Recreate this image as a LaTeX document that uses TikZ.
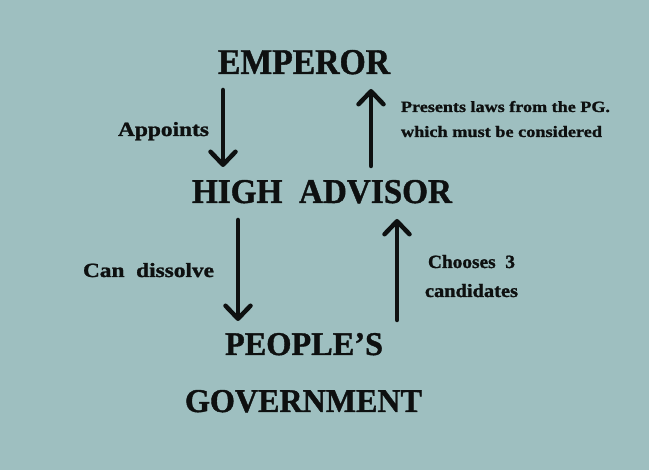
\documentclass[tikz,border=0pt]{standalone}
\usepackage{fontspec}
\setmainfont{Liberation Serif}[BoldFeatures={FakeBold=1.2}]
\usepackage{graphicx}
\usetikzlibrary{arrows.meta}
\definecolor{bgteal}{RGB}{158,191,192}
\definecolor{ink}{RGB}{14,16,16}
\newcommand\fitt[3]{\resizebox{#1pt}{#2pt}{\bfseries #3}}
\begin{document}
\begin{tikzpicture}[x=1pt,y=-1pt,
  lbl/.style={anchor=base west,inner sep=0pt,outer sep=0pt,text=ink},
  arr/.style={draw=ink,line width=4.5pt,line cap=round,
    -{Straight Barb[length=13pt,width=25pt,line cap=round,line join=round]}}]
\useasboundingbox (0,0) rectangle (649,470);
\fill[bgteal] (0,0) rectangle (649,470);
% titles
\node[lbl] (emp) at (218,74) {\fitt{172}{24}{EMPEROR}};
\node[lbl] (hig) at (192,203) {\fitt{260}{23}{HIGH\ \ ADVISOR}};
\node[lbl] (peo) at (225,355) {\fitt{158}{22}{PEOPLE'S}};
\node[lbl] (gov) at (185,412) {\fitt{237}{22}{GOVERNMENT}};
% labels
\node[lbl] (app) at (118,136) {\fitt{91}{14}{Appoints}};
\node[lbl] (pre1) at (401,112) {\fitt{209}{11}{Presents\ laws\ from\ the\ PG.}};
\node[lbl] (pre2) at (401,137) {\fitt{201}{11}{which\ must\ be\ considered}};
\node[lbl] (can) at (83,277) {\fitt{131}{14}{Can\ \ dissolve}};
\node[lbl] (cho1) at (428,268) {\fitt{87}{13}{Chooses\ \ 3}};
\node[lbl] (cho2) at (425,297) {\fitt{93}{13}{candidates}};
% arrow end points
\coordinate (a1s) at (223,90);
\coordinate (a1e) at (223,167);
\coordinate (a2s) at (371,166);
\coordinate (a2e) at (371,89);
\coordinate (a3s) at (238,220);
\coordinate (a3e) at (238,321);
\coordinate (a4s) at (397,320);
\coordinate (a4e) at (397,219);
\draw[arr] (a1s) -- (a1e);
\draw[arr] (a2s) -- (a2e);
\draw[arr] (a3s) -- (a3e);
\draw[arr] (a4s) -- (a4e);
\end{tikzpicture}
\end{document}
